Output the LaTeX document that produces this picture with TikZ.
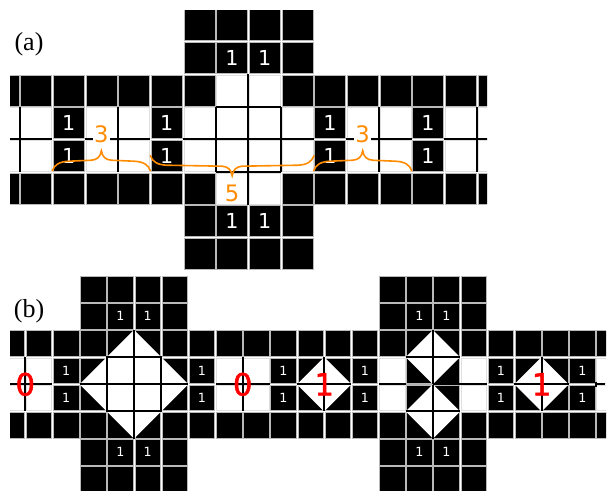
\documentclass[tikz,border=0pt]{standalone}
\usepackage{fontspec}
\setmainfont{Liberation Serif}
\newfontfamily\cellfont{DejaVu Sans}
\newfontfamily\redfont[BoldFont={DejaVu Sans}, BoldFeatures={FakeBold=1.6}]{DejaVu Sans}
\usepackage{xcolor}
\usetikzlibrary{calc}
\definecolor{braceColor}{HTML}{FF8C00}
\definecolor{zeroColor}{HTML}{FF0000}

\tikzset{
    blackcell/.style={fill=black, draw=gray!55, line width=0.4pt},
    whitecell/.style={fill=white, draw=gray!25, line width=0.4pt},
    gridline/.style={black, line width=1.5pt},
    digitbig/.style={white, font=\cellfont\fontsize{15.5}{15.5}\selectfont, inner sep=0pt},
    digitsmall/.style={white, font=\cellfont\fontsize{9.5}{9.5}\selectfont, inner sep=0pt},
    bracelabel/.style={braceColor, fill=white, inner sep=1pt, font=\cellfont\fontsize{17}{17}\selectfont},
    redlabel/.style={zeroColor, inner sep=0pt, font=\redfont\bfseries\fontsize{23}{23}\selectfont},
    panellabel/.style={inner sep=0pt, font=\fontsize{19.5}{19.5}\selectfont},
    orangebrace/.style={braceColor, line width=1.2pt, line cap=round},
}

% cell (col,row) in the units of the scope in force
\newcommand{\cellbox}[3]{\path[#1] ($(#2,#3)+(0.6pt,-0.6pt)$) rectangle ($(#2+1,#3+1)+(-0.6pt,0.6pt)$);}

\begin{document}
\begin{tikzpicture}[x=0.75pt, y=-0.75pt]

    \useasboundingbox (0,0) rectangle (616,490);

    \node[panellabel] (labela) at (29,44) {(a)};
    \node[panellabel] (labelb) at (29,311) {(b)};

    % panel a
    \begin{scope}
        \clip (10,10) rectangle (487,270);
        \begin{scope}[shift={(19.7,8.7)}, x=24.5pt, y=-24.5pt]
            \foreach \c in {-1,...,14} {
                \cellbox{whitecell}{\c}{3}
                \cellbox{whitecell}{\c}{4}
            }
            \foreach \c in {6,7} {
                \cellbox{whitecell}{\c}{2}
                \cellbox{whitecell}{\c}{5}
            }
            \foreach \r in {0,1,6,7} {
                \foreach \c in {5,...,8} {
                    \cellbox{blackcell}{\c}{\r}
                }
            }
            \foreach \r in {2,5} {
                \foreach \c in {-1,0,1,2,3,4,5,8,9,10,11,12,13,14} {
                    \cellbox{blackcell}{\c}{\r}
                }
            }
            \foreach \r in {3,4} {
                \foreach \c in {1,4,9,12} {
                    \cellbox{blackcell}{\c}{\r}
                }
            }

            \foreach \c in {0,3,6,8,11,14}
                \draw[gridline] (\c,3) -- (\c,5);
            \draw[gridline] (7,2) -- (7,6);
            \draw[gridline] (6,3) -- (8,3);
            \draw[gridline] (6,5) -- (8,5);
            \foreach \a/\b in {-1/1, 2/4, 5/9, 10/12, 13/15}
                \draw[gridline] (\a,4) -- (\b,4);

            \foreach \c/\r in {1/3,1/4,4/3,4/4,9/3,9/4,12/3,12/4,6/1,7/1,6/6,7/6}
                \node[digitbig] (a-\c-\r) at (\c+0.5,\r+0.5) {1};

            \coordinate (bracea) at (1,4.96);
            \coordinate (braceb) at (4,4.5);
            \coordinate (bracec) at (9,4.96);

            % half width and direction of each brace
            \foreach \name/\w/\s in {bracea/49/1, braceb/81.8/-1, bracec/49/1}
                \draw[orangebrace, shift={(\name)}, x=0.75pt, y=\s*0.75pt]
                    (0,0) .. controls (2,6) and (7,9) .. (16,9.5) -- (\w-10,10.5)
                    .. controls (\w-4,11) and (\w-1,14) .. (\w,20)
                    .. controls (\w+1,14) and (\w+4,11) .. (\w+10,10.5)
                    -- (2*\w-16,9.5) .. controls (2*\w-7,9) and (2*\w-2,6) .. (2*\w,0);

            \node[bracelabel] (threea) at (2.5,3.85) {3};
            \node[bracelabel] (five) at (6.5,5.64) {5};
            \node[bracelabel] (threeb) at (10.5,3.85) {3};
        \end{scope}
    \end{scope}

    % panel b
    \begin{scope}
        \clip (10,270) rectangle (606,490);
        \begin{scope}[shift={(25.3,275.6)}, x=20.38pt, y=-20.38pt]
            \foreach \c in {-1,0,7,8,13,16,21} {
                \cellbox{whitecell}{\c}{3}
                \cellbox{whitecell}{\c}{4}
            }
            \foreach \r in {0,1,6,7} {
                \foreach \c in {2,3,4,5,13,14,15,16} {
                    \cellbox{blackcell}{\c}{\r}
                }
            }
            \foreach \r in {2,5} {
                \foreach \c in {-1,...,21} {
                    \cellbox{blackcell}{\c}{\r}
                }
            }
            \foreach \r in {3,4} {
                \foreach \c in {1,2,3,4,5,6,9,10,11,12,14,15,17,18,19,20} {
                    \cellbox{blackcell}{\c}{\r}
                }
            }

            % white diamonds
            \fill[white] (2,4) -- (4,2) -- (6,4) -- (4,6) -- cycle;
            \foreach \x/\y in {11/4, 15/3, 15/5, 19/4}
                \fill[white] (\x-1,\y) -- (\x,\y-1) -- (\x+1,\y) -- (\x,\y+1) -- cycle;

            \draw[gridline] (4,2) -- (4,6);
            \draw[gridline] (2,4) -- (6,4);
            \draw[gridline] (3,3) rectangle (5,5);
            \foreach \x/\a/\b in {0/-1/1, 8/7/9, 11/10/12, 19/18/20} {
                \draw[gridline] (\x,3) -- (\x,5);
                \draw[gridline] (\a,4) -- (\b,4);
            }
            \draw[gridline] (15,2) -- (15,6);
            \draw[gridline] (14,3) -- (16,3);
            \draw[gridline] (14,5) -- (16,5);
            \draw[gridline] (13,4) -- (14,4);
            \draw[gridline] (15,4) -- (17,4);
            \draw[gray!60, line width=1pt] (14,4) -- (15,4);
            \draw[gridline] (21,3.9) -- (21,4.1);
            \draw[gridline] (21,4) -- (21.35,4);

            \foreach \c/\r in {1/3,1/4,6/3,6/4,9/3,9/4,12/3,12/4,17/3,17/4,20/3,20/4,
                               3/1,4/1,3/6,4/6,14/1,15/1,14/6,15/6}
                \node[digitsmall] (b-\c-\r) at (\c+0.5,\r+0.5) {1};

            \node[redlabel] (zeroa) at (0,4) {0};
            \node[redlabel] (zerob) at (8,4) {0};
            \node[redlabel] (onea) at (11,4) {1};
            \node[redlabel] (oneb) at (19,4) {1};
        \end{scope}
    \end{scope}
\end{tikzpicture}
\end{document}
